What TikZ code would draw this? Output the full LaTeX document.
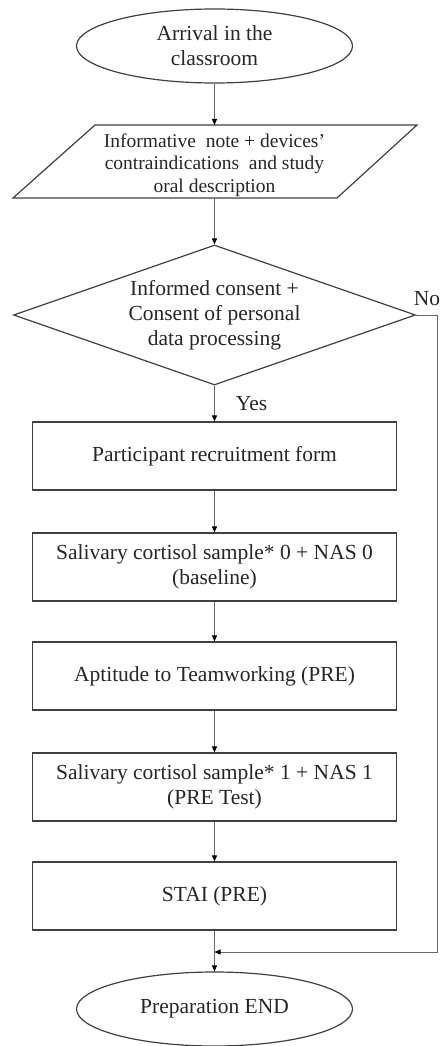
\documentclass[tikz,border=0pt]{standalone}
\usepackage{fontspec}
\setmainfont{Liberation Serif}
\usetikzlibrary{shapes.geometric,arrows.meta}

\begin{document}
\begin{tikzpicture}[x=1pt,y=-1pt,
  every node/.style={font=\fontsize{21.5}{25}\selectfont, text=black!85},
  border/.style={draw=black!75, line width=1.2pt},
  terminal/.style={border, ellipse, minimum width=276pt, minimum height=74pt,
    inner sep=0pt, align=center},
  process/.style={border, rectangle, minimum width=364pt, minimum height=68pt,
    inner sep=0pt, align=center},
  decision/.style={border, diamond, shape aspect=2.87, minimum width=402pt,
    minimum height=140pt, inner sep=0pt, align=center},
  flow/.style={draw=black!60, line width=0.9pt,
    -{Triangle[length=6pt,width=5pt,color=black]}},
  lbl/.style={inner sep=0pt},
]
\useasboundingbox (0,0) rectangle (442,1046);

% start
\node[terminal] (start) at (214.5,46) {Arrival in the\\classroom};

% information step (parallelogram)
\coordinate (pTL) at (95,125);
\coordinate (pTR) at (417,125);
\coordinate (pBR) at (337,198);
\coordinate (pBL) at (13,198);
\draw[border] (pTL) -- (pTR) -- (pBR) -- (pBL) -- cycle;
\node[font=\fontsize{19.5}{22.5}\selectfont, align=center] (note) at (214.5,165)
  {Informative \ note + devices'\\contraindications \ and study\\oral description};
\coordinate (noteT) at (214.5,125);
\coordinate (noteB) at (214.5,198);

% consent decision
\node[decision] (consent) at (214.5,315)
  {Informed consent +\\Consent of personal\\data processing};

% steps
\node[process] (recruit) at (214.5,456) {Participant recruitment form};
\node[process] (cort0) at (214.5,567) {Salivary cortisol sample* 0 + NAS 0\\(baseline)};
\node[process] (apt) at (214.5,676) {Aptitude to Teamworking (PRE)};
\node[process] (cort1) at (214.5,787) {Salivary cortisol sample* 1 + NAS 1\\(PRE Test)};
\node[process] (stai) at (214.5,896) {STAI (PRE)};

% end
\node[terminal] (finish) at (214.5,1009) {Preparation END};

% connectors
\draw[flow] (start) -- (noteT);
\draw[flow] (noteB) -- (consent);
\draw[flow] (consent) -- node[lbl, anchor=west, xshift=21pt] (yes) {Yes} (recruit);
\draw[flow] (recruit) -- (cort0);
\draw[flow] (cort0) -- (apt);
\draw[flow] (apt) -- (cort1);
\draw[flow] (cort1) -- (stai);
\draw[flow] (stai) -- (finish);

% refusal branch
\coordinate (nocorner) at (437,315);
\coordinate (nodown) at (437,952);
\coordinate (join) at (214.5,952);
\draw[flow] (consent.east) -- (nocorner)
  node[lbl, anchor=south, xshift=-10pt, yshift=9pt] (no) {No}
  -- (nodown) -- (join);
\end{tikzpicture}
\end{document}
